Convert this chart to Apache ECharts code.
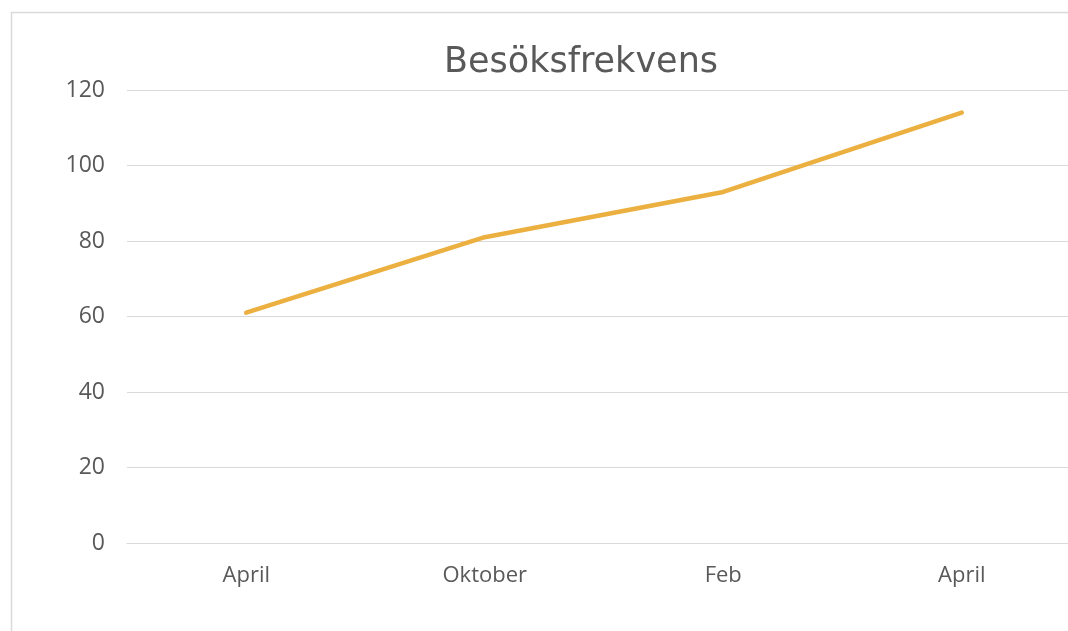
<!DOCTYPE html>
<html>
<head>
<meta charset="utf-8">
<script src="https://cdn.jsdelivr.net/npm/echarts@6/dist/echarts.min.js"></script>
<style>
html,body{margin:0;padding:0;background:#fff;}
#chart{width:1068px;height:631px;}
</style>
</head>
<body>
<div id="chart"></div>
<script>
const titleText = 'Besöksfrekvens';
const categories = ['April', 'Oktober', 'Feb', 'April'];
const visits = [61, 81, 93, 114];
const yTicks = [0, 20, 40, 60, 80, 100, 120];

const chart = echarts.init(document.getElementById('chart'), null, {renderer: 'canvas'});
chart.setOption({
  backgroundColor: '#ffffff',
  animation: false,
  graphic: [{
    type: 'rect',
    silent: true,
    shape: {x: 11.5, y: 12.5, width: 1300, height: 800},
    style: {fill: 'none', stroke: '#d9d9d9', lineWidth: 1.5}
  }],
  title: {
    text: titleText,
    left: 576,
    top: 40,
    textAlign: 'center',
    textStyle: {fontFamily: 'DejaVu Sans', fontSize: 35, fontWeight: 'normal', color: '#595959'}
  },
  grid: {left: 127, right: -13, top: 90, bottom: 88, containLabel: false, outerBoundsMode: 'none'},
  xAxis: {
    type: 'category',
    data: categories,
    boundaryGap: true,
    axisLine: {show: true, lineStyle: {color: '#d9d9d9', width: 1}},
    axisTick: {show: false},
    axisLabel: {color: '#595959', fontFamily: 'Open Sans', fontSize: 22, margin: 22}
  },
  yAxis: {
    type: 'value',
    min: yTicks[0],
    max: yTicks[yTicks.length - 1],
    interval: yTicks[1] - yTicks[0],
    axisLine: {show: false},
    axisTick: {show: false},
    splitLine: {show: true, lineStyle: {color: '#d9d9d9', width: 1}},
    axisLabel: {color: '#595959', fontFamily: 'Open Sans', fontSize: 23, margin: 22}
  },
  series: [{
    type: 'line',
    data: visits,
    symbol: 'none',
    lineStyle: {color: '#EBB040', width: 4.5, cap: 'round'},
    itemStyle: {color: '#EBB040'}
  }]
});
</script>
</body>
</html>
